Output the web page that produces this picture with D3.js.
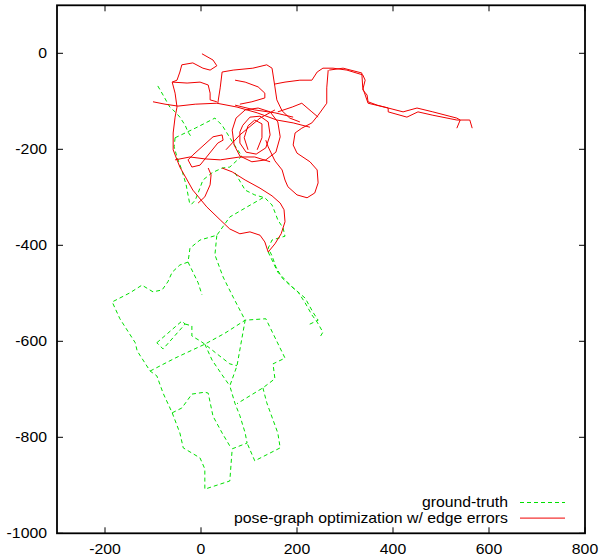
<!DOCTYPE html>
<html>
<head>
<meta charset="utf-8">
<script src="https://cdn.jsdelivr.net/npm/d3@7"></script>
<style>
  body { margin: 0; background: #fff; }
  text { font-family: "Liberation Sans", Arial, sans-serif; }
</style>
</head>
<body>
<script>
// ground-truth trajectory (dashed green), one array per traced stretch, [x, y]
const truthParts = [
  [[-90,-68],[-79,-87],[-65,-112],[-54,-122],[-44,-133],[-33,-150],[-27,-164],[-19,-176]],
  [[-54,-176],[-12,-156],[29,-135],[44,-150],[67,-187],[85,-214],[60,-237],[44,-239],[23,-249],[4,-264],[-6,-291],[-12,-306],[-23,-318]],
  [[-54,-176],[-56,-195],[-50,-216],[-40,-243],[-31,-274],[-23,-316]],
  [[71,-249],[92,-285],[112,-295],[133,-301],[148,-316],[154,-331],[160,-347],[171,-364],[175,-381],[148,-389],[140,-406],[148,-422],[156,-445],[169,-468],[185,-483],[202,-497],[217,-520],[231,-545],[242,-560],[254,-581],[248,-591]],
  [[140,-414],[160,-456],[190,-487],[217,-510],[233,-539],[244,-556],[223,-566]],
  [[129,-301],[96,-320],[60,-341],[33,-379],[-2,-389],[-23,-406],[-27,-435],[-44,-441],[-60,-456],[-69,-476],[-81,-493],[-100,-497],[-123,-483],[-148,-499],[-185,-518],[-169,-553],[-137,-603],[-133,-620],[-106,-662],[-92,-672],[-79,-708],[-60,-749],[-44,-791],[-37,-822],[-2,-843],[8,-866],[8,-908],[60,-891],[65,-824],[96,-812],[92,-791],[81,-755],[71,-730],[60,-693],[75,-651],[92,-556],[67,-508],[46,-466],[29,-420],[33,-379]],
  [[-27,-435],[-6,-478],[2,-503]],
  [[-106,-662],[-54,-635],[8,-606],[50,-583],[92,-556],[135,-553],[175,-635],[150,-647],[154,-678],[129,-697],[75,-730]],
  [[129,-697],[137,-728],[160,-791],[165,-822],[112,-849],[96,-812]],
  [[-92,-603],[-40,-558],[-33,-564],[-79,-616],[-92,-603]],
  [[-33,-564],[-19,-568],[-19,-589],[-2,-599],[8,-606],[33,-626],[60,-647],[75,-651]],
  [[-60,-749],[-40,-739],[-29,-724],[-19,-710],[8,-706],[15,-708],[25,-756],[44,-791],[60,-818]],
  [[8,-606],[23,-639],[44,-670],[60,-693]]
];

// pose-graph optimization result (solid red)
const poseParts = [
  [[2,-1],[25,-14],[33,-26],[19,-35],[4,-31],[-17,-20],[-40,-24],[-44,-39],[-50,-56],[-60,-60],[-54,-83],[-50,-112],[-54,-133],[-58,-166],[-58,-201],[-50,-222],[-44,-237],[-17,-285],[12,-320],[40,-347],[60,-366],[81,-376],[102,-372],[123,-379],[133,-393],[140,-414],[154,-397],[167,-376],[175,-351],[173,-326],[165,-312],[148,-297],[123,-281],[92,-264],[65,-247],[44,-239]],
  [[-60,-60],[-29,-62],[-2,-60],[15,-66],[19,-83],[19,-97],[33,-101]],
  [[-100,-101],[-75,-106],[-48,-110],[-12,-106],[33,-104],[75,-112],[117,-124],[158,-139],[192,-145],[227,-154]],
  [[35,-104],[40,-72],[44,-39],[67,-35],[108,-31],[137,-24],[148,-31],[154,-70],[158,-97],[169,-120],[185,-135],[206,-143]],
  [[154,-64],[175,-60],[206,-56],[231,-56],[242,-39],[254,-31],[275,-31],[304,-35],[337,-45],[342,-56],[337,-76],[346,-87],[348,-101],[367,-108],[390,-114],[390,-122],[429,-133],[452,-122],[483,-129],[533,-139],[560,-139],[565,-156]],
  [[267,-35],[296,-31],[335,-41],[337,-72],[348,-104],[390,-114],[421,-122],[450,-114],[483,-122],[533,-135],[540,-139],[533,-156]],
  [[265,-35],[262,-72],[262,-104],[244,-129],[231,-145],[210,-156],[196,-166],[192,-191],[200,-208],[227,-226],[242,-243],[244,-270],[237,-291],[221,-301],[200,-295],[181,-278],[175,-264],[169,-243],[154,-224],[140,-195],[135,-181]],
  [[71,-56],[92,-60],[119,-70],[133,-83],[133,-93],[106,-101],[81,-106]],
  [[71,-108],[112,-118],[154,-124],[192,-133]],
  [[160,-122],[190,-112],[210,-104],[231,-122],[244,-133]],
  [[-54,-222],[-23,-216],[8,-220],[40,-222],[81,-216],[112,-216],[144,-226]],
  [[-27,-222],[-19,-237],[-2,-233],[35,-187],[46,-181],[44,-170],[25,-174],[-17,-212],[-27,-222]],
  [[73,-135],[92,-118],[119,-114],[144,-122],[160,-143],[165,-174],[156,-206],[135,-222],[106,-226],[81,-214],[69,-191],[65,-160],[73,-135]],
  [[87,-150],[102,-133],[123,-131],[140,-143],[144,-170],[135,-197],[115,-210],[94,-206],[81,-187],[81,-164],[87,-150]],
  [[98,-201],[90,-176],[98,-151],[112,-139],[127,-147],[127,-176],[117,-201]],
  [[52,-201],[81,-170],[123,-135],[154,-118]],
  [[15,-239],[21,-253],[19,-274],[8,-299],[-6,-312]]
];

const xTicks = [-200, 0, 200, 400, 600, 800];
const yTicks = [-1000, -800, -600, -400, -200, 0];
const seriesNames = ['ground-truth', 'pose-graph optimization w/ edge errors'];
const seriesColors = ['#00e000', '#f00000'];

const width = 604;
const height = 556;
const plotLeft = 57, plotRight = 585, plotTop = 5.3, plotBottom = 533.3;
const fontSize = 14;
const stretch = 1.13; // the reference text is a little wider than Liberation Sans

const x = d3.scaleLinear().domain([-300, 800]).range([plotLeft, plotRight]);
const y = d3.scaleLinear().domain([-1000, 100]).range([plotBottom, plotTop]);

const svg = d3.select('body').append('svg')
  .attr('width', width)
  .attr('height', height);

const line = d3.line()
  .x(d => x(d[0]))
  .y(d => y(d[1]));

// trajectories
svg.append('g').attr('class', 'truth')
  .selectAll('path').data(truthParts)
  .enter().append('path')
    .attr('d', line)
    .attr('fill', 'none')
    .attr('stroke', seriesColors[0])
    .attr('stroke-width', 1)
    .attr('stroke-dasharray', '4,3');

svg.append('g').attr('class', 'pose')
  .selectAll('path').data(poseParts)
  .enter().append('path')
    .attr('d', line)
    .attr('fill', 'none')
    .attr('stroke', seriesColors[1])
    .attr('stroke-width', 1);

// inward ticks on all four sides, gnuplot style
const tickLen = 6;
const ticks = svg.append('g').attr('stroke', '#000').attr('stroke-width', 1);
xTicks.forEach(v => {
  ticks.append('line').attr('x1', x(v)).attr('x2', x(v)).attr('y1', plotBottom).attr('y2', plotBottom - tickLen);
  ticks.append('line').attr('x1', x(v)).attr('x2', x(v)).attr('y1', plotTop).attr('y2', plotTop + tickLen);
});
yTicks.forEach(v => {
  ticks.append('line').attr('x1', plotLeft).attr('x2', plotLeft + tickLen).attr('y1', y(v)).attr('y2', y(v));
  ticks.append('line').attr('x1', plotRight).attr('x2', plotRight - tickLen).attr('y1', y(v)).attr('y2', y(v));
});

// frame
svg.append('rect')
  .attr('x', plotLeft).attr('y', plotTop)
  .attr('width', plotRight - plotLeft).attr('height', plotBottom - plotTop)
  .attr('fill', 'none')
  .attr('stroke', '#000')
  .attr('stroke-width', 1.8);

// text placed at (tx, ty) and widened horizontally
function label(g, tx, ty, anchor, str) {
  return g.append('text')
    .attr('transform', `translate(${tx},${ty}) scale(${stretch},1)`)
    .attr('dy', '0.35em')
    .attr('text-anchor', anchor)
    .attr('font-size', fontSize)
    .text(str);
}

// tick labels
const xLabels = svg.append('g');
xTicks.forEach(v => label(xLabels, x(v), 549, 'middle', v));
const yLabels = svg.append('g');
yTicks.forEach(v => label(yLabels, 47, y(v), 'end', v));

// legend
const legend = svg.append('g').attr('class', 'legend');
seriesNames.forEach((name, i) => {
  const ly = 502.5 + i * 15.6;
  label(legend, 508, ly, 'end', name);
  legend.append('line')
    .attr('x1', 520).attr('x2', 565)
    .attr('y1', ly).attr('y2', ly)
    .attr('stroke', seriesColors[i])
    .attr('stroke-width', 1)
    .attr('stroke-dasharray', i === 0 ? '4,3' : null);
});
</script>
</body>
</html>
